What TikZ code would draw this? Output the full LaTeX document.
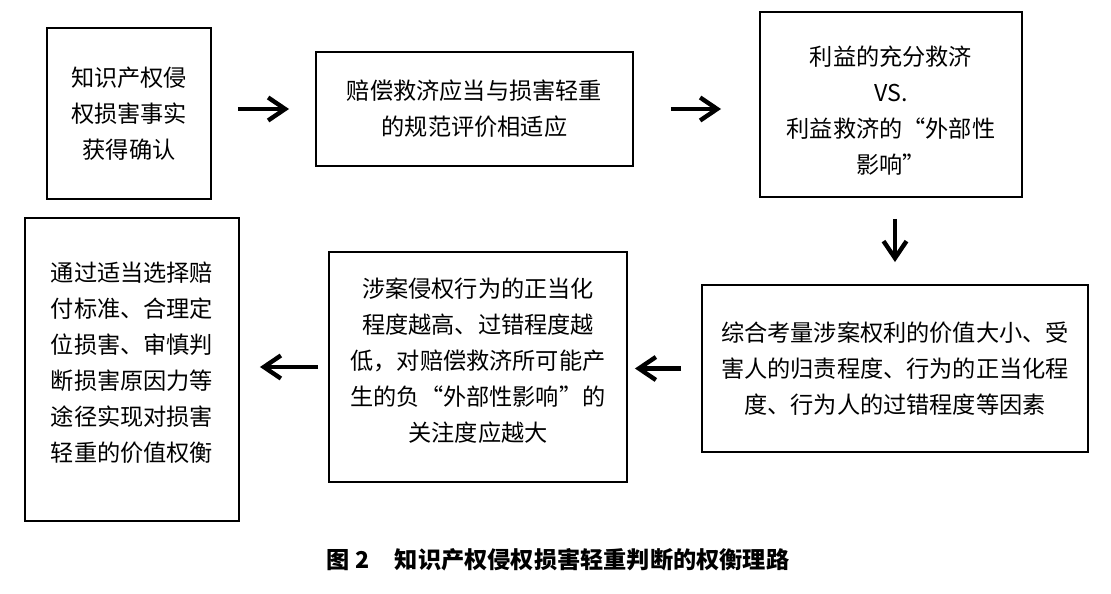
\documentclass[tikz,border=0pt]{standalone}
\usepackage{fontspec}
\setmainfont{Noto Sans CJK SC}
\usetikzlibrary{arrows.meta}
\tikzset{
  box/.style={draw, line width=1.1pt, align=center, inner sep=0pt,
    font=\fontsize{13.2}{20.5}\selectfont},
  flow/.style={line width=2.5pt, -{Straight Barb[length=3.4mm,width=4.6mm]}}
}

\begin{document}
\begin{tikzpicture}
          \useasboundingbox (0,0) rectangle (22.22,11.86);
          % top row
          \node[box, minimum width=3.28cm, minimum height=3.42cm] (fact) at (2.58,9.59)
            {知识产权侵\\权损害事实\\获得确认};
          \node[box, minimum width=6.34cm, minimum height=2.28cm] (norm) at (9.49,9.68)
            {赔偿救济应当与损害轻重\\的规范评价相适应};
          \node[box, minimum width=5.24cm, minimum height=3.70cm] (vs) at (17.82,9.77)
            {\rule{0pt}{0.65cm}利益的充分救济\\VS.\\利益救济的“外部性\\影响”};
          % bottom row
          \node[box, minimum width=7.72cm, minimum height=3.34cm] (factors) at (17.90,4.49)
            {综合考量涉案权利的价值大小、受\\害人的归责程度、行为的正当化程\\度、行为人的过错程度等因素};
          \node[box, minimum width=5.96cm, minimum height=4.60cm] (degree) at (9.56,4.52)
            {涉案侵权行为的正当化\\程度越高、过错程度越\\低，对赔偿救济所可能产\\生的负“外部性影响”的\\关注度应越大\rule[-0.3cm]{0pt}{0.1pt}};
          \node[box, minimum width=4.28cm, minimum height=6.06cm] (balance) at (2.64,4.47)
            {通过适当选择赔\\付标准、合理定\\位损害、审慎判\\断损害原因力等\\途径实现对损害\\轻重的价值权衡\rule[-0.3cm]{0pt}{0.1pt}};
          % arrows
          \draw[flow, shorten <=0.52cm, shorten >=0.52cm] (fact.east |- norm.west) -- (norm.west);
          \draw[flow, shorten <=0.74cm, shorten >=0.76cm] (norm.east) -- (norm.east -| vs.west);
          \draw[flow, shorten <=0.42cm, shorten >=0.44cm] (factors.north |- vs.south) -- (factors.north);
          \draw[flow, shorten <=0.40cm, shorten >=0.14cm] (factors.west) -- (factors.west -| degree.east);
          \draw[flow, shorten <=0.20cm, shorten >=0.40cm] (degree.west) -- (degree.west -| balance.east);
          % caption
          \node[font=\fontsize{13.2}{16}\selectfont\bfseries] (caption) at (11.16,0.66)
            {图~2\hspace{1.1em}知识产权侵权损害轻重判断的权衡理路};
\end{tikzpicture}
\end{document}
